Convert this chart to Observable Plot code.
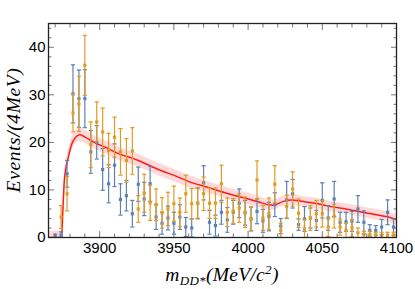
<!DOCTYPE html>
<html><head><meta charset="utf-8">
<script src="https://cdn.jsdelivr.net/npm/d3@7"></script>
<script src="https://cdn.jsdelivr.net/npm/@observablehq/plot@0.6"></script>
<style>body{margin:0;background:#fff}</style>
</head><body><div id="chart"></div>
<script>
// bin centres (MeV), 4 MeV bins
const binCenters = [3870,3874,3878,3882,3886,3890,3894,3898,3902,3906,3910,3914,3918,3922,3926,3930,3934,3938,3942,3946,3950,3954,3958,3962,3966,3970,3974,3978,3982,3986,3990,3994,3998,4002,4006,4010,4014,4018,4022,4026,4030,4034,4038,4042,4046,4050,4054,4058,4062,4066,4070,4074,4078,4082,4086,4090,4094,4098];
const blueCounts = [0.3,0.5,13.4,30.2,29.2,29.2,18.0,20.0,14.3,11.3,15.2,8.0,8.8,5.0,11.2,8.1,11.3,4.3,3.0,4.1,3.0,4.3,2.2,2.0,7.2,11.5,3.2,2.5,5.3,3.7,5.3,7.2,5.2,3.9,5.5,3.5,4.4,6.9,2.4,7.9,9.2,2.7,3.9,4.1,3.6,7.8,4.1,8.1,3.2,3.3,3.4,6.0,3.2,1.5,1.5,2.2,5.3,2.2];
const blueErrors = [0.4,0.7,2.8,6.1,6.0,6.1,4.5,3.5,4.4,4.0,4.5,3.3,3.2,2.8,3.6,3.5,3.7,2.6,2.3,2.5,2.3,2.6,2.0,1.9,3.2,3.6,2.5,2.2,2.5,2.6,2.5,3.0,2.6,2.5,2.6,2.4,3.0,2.5,1.6,3.9,3.0,1.2,2.6,2.1,2.1,3.7,2.6,3.7,2.1,2.0,2.1,2.8,2.4,1.2,1.0,1.6,2.6,1.7];
const orangeCounts = [null,4.3,9.2,26.2,28.1,36.2,19.5,24.3,22.2,18.3,21.1,18.0,16.2,18.2,6.0,9.3,7.3,6.9,5.2,6.0,7.1,5.3,9.2,7.1,7.2,9.2,7.2,7.2,11.3,5.3,5.6,6.2,5.3,3.9,12.1,4.1,5.0,11.2,1.5,6.5,10.2,5.1,1.8,4.1,5.0,5.0,2.2,4.5,2.2,1.5,2.0,1.0,0.6,0.6,0.5,0.5,0.5,0.5];
const orangeErrors = [null,2.4,3.6,4.0,5.8,6.3,4.8,4.2,5.0,3.6,4.2,4.9,4.6,4.9,2.8,4.0,3.7,3.3,3.2,3.5,3.7,3.0,3.9,3.2,3.3,3.5,3.2,3.2,3.9,3.0,2.6,3.0,3.2,2.5,4.0,2.6,3.3,3.9,1.5,2.4,3.6,3.0,2.0,2.6,2.8,2.8,2.0,2.5,1.7,1.5,1.8,1.0,0.7,0.7,0.6,0.6,0.6,0.6];
// fit curve and its uncertainty band
const fitMass  = [3865.5,3874.2,3874.4,3874.9,3876.2,3878.9,3882.3,3886.8,3890.2,3896.9,3903.6,3911.5,3926,3939.6,3953,3959.8,3973.3,3986.7,4000.2,4006.9,4013.7,4017,4023.8,4029.4,4036.1,4045.1,4054.1,4067.6,4081,4094.5,4100];
const fitValue = [0,0,0.3,3.6,12,16.9,20.4,21.6,21.1,19.9,19.0,17.8,16.2,14.3,12.7,11.8,10.5,9.2,8.1,7.5,6.9,6.8,7.6,7.9,7.6,7.2,6.6,5.9,5.1,4.3,3.8];
const fitError = [1.3,1.3,1.0,1.0,1.2,1.4,1.4,1.4,1.4,1.4,1.4,1.4,1.3,1.3,1.3,1.3,1.2,1.2,1.2,1.2,1.1,1.1,1.1,1.1,1.1,1.1,1.1,1.1,1.1,1.1,1.1];

const xMajorTicks = [3900,3950,4000,4050,4100];
const xMinorTicks = [3870,3880,3890,3910,3920,3930,3940,3960,3970,3980,3990,4010,4020,4030,4040,4060,4070,4080,4090];
const yMajorTicks = [0,10,20,30,40];
const yMinorTicks = [2,4,6,8,12,14,16,18,22,24,26,28,32,34,36,38,42,44];

const blue = "#5E81B5", orange = "#E19C24";
const toRows = (counts, errs) => binCenters.map((m, i) => ({m, v: counts[i], e: errs[i]})).filter(d => d.v != null);
const blueRows = toRows(blueCounts, blueErrors);
const orangeRows = toRows(orangeCounts, orangeErrors);
const fitRows = fitMass.map((m, i) => ({m, v: fitValue[i], lo: fitValue[i] - fitError[i], hi: fitValue[i] + fitError[i]}));

const cap = {draw(ctx, size) { const w = Math.sqrt(size / Math.PI); ctx.moveTo(-w, 0); ctx.lineTo(w, 0); }};
const errMarks = (rows, color) => [
  Plot.ruleX(rows, {x: "m", y1: d => d.v - d.e, y2: d => d.v + d.e, stroke: color, strokeWidth: 1.2, clip: true}),
  Plot.dot(rows, {x: "m", y: d => d.v + d.e, symbol: cap, r: 2.1, stroke: color, strokeWidth: 1.2, fill: "none", clip: true}),
  Plot.dot(rows, {x: "m", y: d => Math.max(0, d.v - d.e), symbol: cap, r: 2.1, stroke: color, strokeWidth: 1.2, fill: "none", clip: true}),
  Plot.dot(rows, {x: "m", y: "v", symbol: "square", r: 1.8, fill: color, stroke: "none", clip: true})
];

const tickColor = "#777";
const chart = Plot.plot({
  width: 415, height: 289,
  marginLeft: 48, marginRight: 19, marginTop: 23, marginBottom: 52,
  style: {fontFamily: "'Liberation Sans', Arial, sans-serif", fontSize: "15px", color: "#000", background: "#fff"},
  x: {domain: [3865.5, 4100]},
  y: {domain: [0, 45]},
  marks: [
    Plot.areaY(fitRows, {x: "m", y1: "lo", y2: "hi", fill: "#ffd9d9", curve: "monotone-x", clip: true}),
    Plot.lineY(fitRows, {x: "m", y: "v", stroke: "#ff1a1a", strokeWidth: 1.5, curve: "monotone-x", clip: true}),
    ...errMarks(blueRows, blue),
    ...errMarks(orangeRows, orange),
    // ticks (inward) on all four sides
    Plot.axisX({anchor: "bottom", ticks: xMajorTicks, tickSize: 0, tickPadding: 5, tickFormat: d => String(d), label: null, fontSize: 15}),
    Plot.axisX({anchor: "bottom", ticks: xMajorTicks, tickSize: -6, fill: "none", label: null, stroke: tickColor}),
    Plot.axisX({anchor: "bottom", ticks: xMinorTicks, tickSize: -3.5, fill: "none", label: null, stroke: tickColor}),
    Plot.axisX({anchor: "top", ticks: xMajorTicks, tickSize: -6, fill: "none", label: null, stroke: tickColor}),
    Plot.axisX({anchor: "top", ticks: xMinorTicks, tickSize: -3.5, fill: "none", label: null, stroke: tickColor}),
    Plot.axisY({anchor: "left", ticks: yMajorTicks, tickSize: 0, tickPadding: 3, tickFormat: d => String(d), label: null, fontSize: 15}),
    Plot.axisY({anchor: "left", ticks: yMajorTicks, tickSize: -6, fill: "none", label: null, stroke: tickColor}),
    Plot.axisY({anchor: "left", ticks: yMinorTicks, tickSize: -3.5, fill: "none", label: null, stroke: tickColor}),
    Plot.axisY({anchor: "right", ticks: yMajorTicks, tickSize: -6, fill: "none", label: null, stroke: tickColor}),
    Plot.axisY({anchor: "right", ticks: yMinorTicks, tickSize: -3.5, fill: "none", label: null, stroke: tickColor}),
    Plot.frame({stroke: "#222", strokeWidth: 1.3})
  ]
});
document.getElementById("chart").appendChild(chart);

const svg = d3.select(chart);
const serif = "'Liberation Serif', 'Times New Roman', serif";
svg.append("text")
  .attr("transform", "translate(20,130) rotate(-90)")
  .attr("text-anchor", "middle")
  .attr("font-family", serif).attr("font-style", "italic").attr("font-size", 19.5)
  .attr("letter-spacing", 0.6).attr("fill", "#000")
  .text("Events/(4MeV)");
const xl = svg.append("text")
  .attr("x", 222).attr("y", 281)
  .attr("text-anchor", "middle")
  .attr("font-family", serif).attr("font-style", "italic").attr("font-size", 19.5)
  .attr("letter-spacing", 0.3).attr("fill", "#000");
xl.append("tspan").text("m");
xl.append("tspan").attr("font-size", 13).attr("dy", 4).text("DD*");
xl.append("tspan").attr("dy", -4).text("(MeV/c");
xl.append("tspan").attr("font-size", 13).attr("dy", -7).text("2");
xl.append("tspan").attr("dy", 7).text(")");
</script></body></html>
